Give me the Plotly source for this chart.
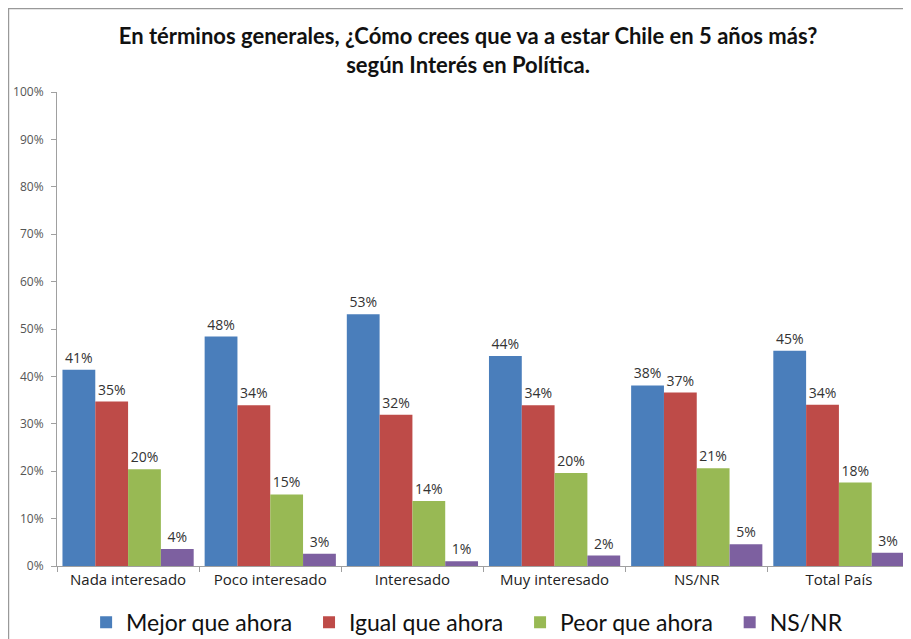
import plotly.graph_objects as go

categories = ["Nada interesado", "Poco interesado", "Interesado", "Muy interesado", "NS/NR", "Total País"]
mejor = [41.4, 48.4, 53.1, 44.3, 38.1, 45.4]
igual = [34.7, 33.9, 31.9, 33.9, 36.6, 34.0]
peor = [20.4, 15.1, 13.7, 19.6, 20.6, 17.6]
nsnr = [3.6, 2.6, 1.0, 2.2, 4.6, 2.8]

series = [
    ("Mejor que ahora", mejor, "#4a7ebb"),
    ("Igual que ahora", igual, "#be4b48"),
    ("Peor que ahora", peor, "#98b954"),
    ("NS/NR", nsnr, "#7d60a0"),
]

fig = go.Figure()
for name, vals, color in series:
    fig.add_trace(
        go.Bar(
            x=categories,
            y=vals,
            name=name + "\u00a0" * 2,
            marker={"color": color, "line": {"width": 0}},
            texttemplate="%{y:.0f}%",
            textposition="outside",
            textfont={"family": "Open Sans, sans-serif", "size": 14, "color": "#333333"},
            cliponaxis=False,
        )
    )

fig.update_layout(
    width=911,
    height=639,
    paper_bgcolor="white",
    plot_bgcolor="white",
    font={"family": "Open Sans, sans-serif", "color": "#333333"},
    margin={"l": 49, "r": 9, "t": 84, "b": 81, "autoexpand": False},
    barmode="group",
    bargap=0.077,
    bargroupgap=0,
    title={
        "text": "<b>En términos generales, ¿Cómo crees que va a estar Chile en 5 años más?<br>según Interés en Política.</b>",
        "x": 0.505,
        "xanchor": "center",
        "y": 0.943,
        "yanchor": "middle",
        "font": {"family": "Lato, sans-serif", "size": 22, "color": "#111111"},
    },
    legend={
        "orientation": "h",
        "x": 0.51,
        "xanchor": "center",
        "xref": "container",
        "y": 0.005,
        "yanchor": "bottom",
        "yref": "container",
        "font": {"family": "Lato, sans-serif", "size": 23, "color": "#111111"},
        "itemwidth": 30,
        "traceorder": "normal",
    },
    xaxis={
        "showline": True,
        "linecolor": "#a0a0a0",
        "ticks": "outside",
        "tickson": "boundaries",
        "ticklen": 5,
        "tickcolor": "#a0a0a0",
        "tickfont": {"size": 15, "color": "#222222"},
        "showgrid": False,
    },
    yaxis={
        "range": [0, 100],
        "dtick": 10,
        "ticksuffix": "%",
        "showline": True,
        "linecolor": "#a0a0a0",
        "ticks": "outside",
        "ticklen": 5,
        "tickcolor": "#a0a0a0",
        "ticklabelstandoff": 5,
        "tickfont": {"size": 12, "color": "#555555"},
        "showgrid": False,
        "zeroline": False,
    },
    shapes=[
        {
            "type": "rect",
            "xref": "paper",
            "yref": "paper",
            "x0": -0.0569,
            "x1": 1.05,
            "y0": -0.2,
            "y1": 1.176,
            "line": {"color": "#999999", "width": 1.5},
            "layer": "below",
        }
    ],
)

fig.write_html("out.html")
